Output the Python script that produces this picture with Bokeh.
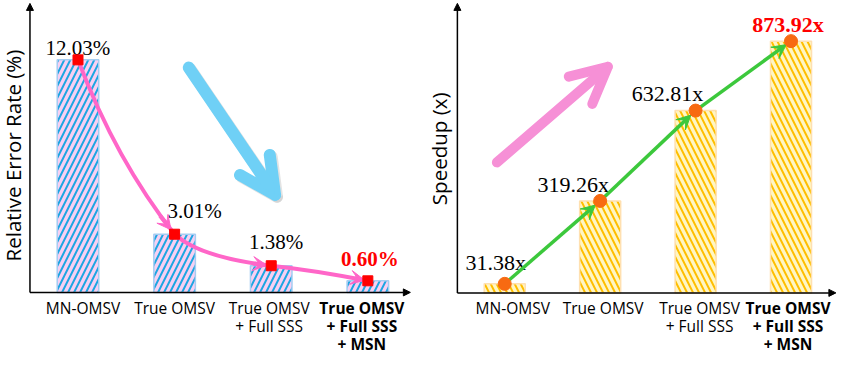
import math
from bokeh.plotting import figure
from bokeh.layouts import row
from bokeh.models import ColumnDataSource, Arrow, VeeHead, NormalHead, OpenHead, Range1d
from bokeh.core.properties import value
from bokeh.embed import file_html
from bokeh.resources import INLINE

# ---------------- data ----------------
categories = ["MN-OMSV", "True OMSV", "True OMSV\n+ Full SSS", "True OMSV\n+ Full SSS\n+ MSN"]
error_rate = [12.03, 3.01, 1.38, 0.60]
speedup = [31.38, 319.26, 632.81, 873.92]
error_labels = ["12.03%", "3.01%", "1.38%", "0.60%"]
speedup_labels = ["31.38x", "319.26x", "632.81x", "873.92x"]
left_title = "Relative Error Rate (%)"
right_title = "Speedup (x)"

# ---------------- styles ----------------
H = 355
W1, W2 = 417, 422
idx = list(range(len(categories)))
bold_last = ["normal", "normal", "normal", "bold"]
val_colors = ["black", "black", "black", "#ff0000"]
left_val_dx = [0, 20, 5, 2]
left_val_dy = [-12, -23, -24, -22]
right_val_dx = [-9, -27, -28, -3]
right_val_dy = [-21, -16, -17, -17]
left_lab_dx = [5, 0, -2, -6]
right_lab_dx = [8, 3, 4, -3]
SANS = "Open Sans"
SERIF = "Liberation Serif"


def make_fig(w, xr, yr):
    p = figure(width=w, height=H, x_range=Range1d(*xr), y_range=Range1d(*yr),
               output_backend="svg", toolbar_location=None, min_border=0,
               x_axis_location=None, y_axis_location=None, outline_line_color=None)
    p.grid.visible = False
    p.background_fill_color = "white"
    p.border_fill_color = "white"
    return p


def axes_arrows(p, x0, x1, y1):
    for xe, ye in [(x0, y1), (x1, 0)]:
        p.add_layout(Arrow(end=NormalHead(size=7, fill_color="black", line_color="black"),
                           x_start=x0, y_start=0, x_end=xe, y_end=ye,
                           line_color="black", line_width=1.5))


def x_labels(p, dxs):
    xs, dys, texts, styles, ox = [], [], [], [], []
    for i, cat in enumerate(categories):
        for j, line in enumerate(cat.split("\n")):
            xs.append(i)
            dys.append(15.5 + 18 * j)
            texts.append(line)
            styles.append(bold_last[i])
            ox.append(dxs[i])
    src = ColumnDataSource(dict(x=xs, y=[0] * len(xs), text=texts, st=styles, dx=ox, dy=dys))
    p.text(x="x", y="y", text="text", source=src, x_offset="dx", y_offset="dy",
           text_align="center", text_baseline="alphabetic", text_font=value(SANS),
           text_font_size="15.5px", text_font_style="st", text_color="black",
           text_line_height=1.0)


def value_labels(p, vals, labels, dxs, dys, size):
    src = ColumnDataSource(dict(x=idx, y=vals, text=labels, c=val_colors, st=bold_last, dx=dxs, dy=dys))
    p.text(x="x", y="y", text="text", source=src, x_offset="dx", y_offset="dy",
           text_align="center", text_baseline="alphabetic", text_font=value(SERIF),
           text_font_size=size, text_font_style="st", text_color="c")


# ---------------- left panel ----------------
p1 = make_fig(W1, (-0.802, 3.514), (-3.264, 15.10))
p1.vbar(x=idx, top=error_rate, bottom=0, width=0.43, fill_color="#f8d0f2",
        hatch_pattern="/", hatch_color="#1ea6e2", hatch_scale=12, hatch_weight=2,
        line_color="#a6cdf2", line_width=1.5)
axes_arrows(p1, -0.497, 3.44, 14.95)

# pink curved connector
ctrl_x = [0.396, 1.264, 2.45]
ctrl_y = [6.81, 1.81, 1.14]
x0s, y0s, x1s, y1s = idx[:-1], error_rate[:-1], idx[1:], error_rate[1:]
PINK = "#ff66c8"
p1.quadratic(x0=x0s, y0=y0s, x1=x1s, y1=y1s, cx=ctrl_x, cy=ctrl_y,
             line_color=PINK, line_width=4)
for i in range(3):
    ex, ey = x1s[i], y1s[i]
    tx, ty = ex - ctrl_x[i], ey - ctrl_y[i]
    p1.add_layout(Arrow(end=VeeHead(size=14, fill_color=PINK, line_color=PINK),
                        x_start=ex - 0.25 * tx, y_start=ey - 0.25 * ty,
                        x_end=ex - 0.06 * tx, y_end=ey - 0.06 * ty,
                        line_color=PINK, line_width=4))
sq = p1.scatter(x=idx, y=error_rate, marker="square", size=10, fill_color="#ff0000", line_color="#ff0000")
sq.level = "overlay"

# big cyan arrow (decoration)
CYAN = "#6fd0f6"
p1.add_layout(Arrow(end=OpenHead(size=36, line_width=12, line_color="#c8c8c8", line_alpha=0.5, line_cap="round", line_join="round"),
                    x_start=1.167, y_start=11.53, x_end=2.06, y_end=4.95,
                    line_color="#c8c8c8", line_alpha=0.5, line_width=12, line_cap="round", level="underlay"))
p1.add_layout(Arrow(end=OpenHead(size=36, line_width=12, line_color=CYAN, line_cap="round", line_join="round"),
                    x_start=1.147, y_start=11.63, x_end=2.04, y_end=5.05,
                    line_color=CYAN, line_width=12, line_cap="round"))

value_labels(p1, error_rate, error_labels, left_val_dx, left_val_dy, "21px")
x_labels(p1, left_lab_dx)
p1.text(x=[-0.668], y=[7.08], text=[left_title], angle=math.pi / 2, text_align="center",
        text_baseline="middle", text_font=value(SANS), text_font_size="20.5px", text_color="black")

# ---------------- right panel ----------------
p2 = make_fig(W2, (-0.914, 3.508), (-217.4, 1015))
p2.vbar(x=idx, top=speedup, bottom=0, width=0.43, fill_color="#fff6c4",
        hatch_pattern="\\", hatch_color="#ffbe00", hatch_scale=12, hatch_weight=2,
        line_color="#ffe0b0", line_width=1.5)
axes_arrows(p2, -0.496, 3.47, 1005)

GREEN = "#3cc83c"
for i in range(3):
    dx = idx[i + 1] - idx[i]
    dy = speedup[i + 1] - speedup[i]
    p2.add_layout(Arrow(end=VeeHead(size=14, fill_color=GREEN, line_color=GREEN),
                        x_start=idx[i], y_start=speedup[i],
                        x_end=idx[i + 1] - 0.05 * dx, y_end=speedup[i + 1] - 0.05 * dy,
                        line_color=GREEN, line_width=3.5))
cr = p2.scatter(x=idx, y=speedup, marker="circle", size=13, fill_color="#f76a12", line_color="#f76a12")
cr.level = "overlay"

PINK2 = "#f690d6"
p2.add_layout(Arrow(end=OpenHead(size=36, line_width=10, line_color=PINK2, line_cap="round", line_join="round"),
                    x_start=-0.082, y_start=453, x_end=1.08, y_end=785,
                    line_color=PINK2, line_width=10, line_cap="round"))

value_labels(p2, speedup, speedup_labels, right_val_dx, right_val_dy, "22px")
x_labels(p2, right_lab_dx)
p2.text(x=[-0.689], y=[500], text=[right_title], angle=math.pi / 2, text_align="center",
        text_baseline="middle", text_font=value(SANS), text_font_size="20.5px", text_color="black")

layout = row(p1, p2)
open("out.html", "w").write(file_html(layout, INLINE))
